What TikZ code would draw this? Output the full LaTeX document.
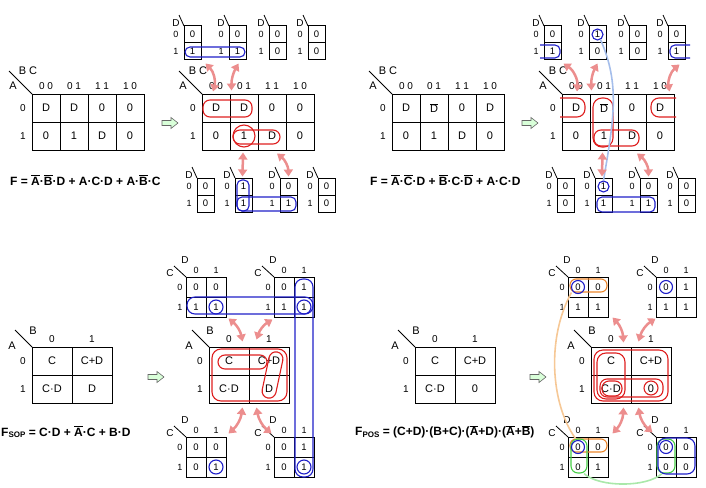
\documentclass[tikz,border=0pt]{standalone}
\usepackage{fontspec}
\setmainfont{Liberation Sans}
\usetikzlibrary{arrows.meta}
\definecolor{kred}{RGB}{222,30,30}
\definecolor{kblue}{RGB}{30,30,200}
\definecolor{karr}{RGB}{236,142,142}
\definecolor{klblue}{RGB}{165,190,235}
\definecolor{korange}{RGB}{236,135,45}
\definecolor{klorange}{RGB}{246,200,150}
\definecolor{kgreen}{RGB}{70,205,70}
\definecolor{klgreen}{RGB}{170,232,170}
\newcommand{\fs}[1]{\fontsize{#1}{#1}\selectfont}
\newcommand{\ol}[1]{$\overline{\mbox{#1}}$}
\newcommand{\sub}[1]{\raisebox{-1.5pt}{\fs{8}#1}}
\tikzset{cell/.style={draw,line width=1pt,inner sep=0pt,font=\fs{11}},
 scell/.style={cell,font=\fs{9.5}},
 lab/.style={inner sep=0pt,font=\fs{10}},
 fml/.style={anchor=west,inner sep=0pt,font=\fs{12}\bfseries},
 rg/.style={draw=kred,line width=1.1pt,rounded corners=7},
 bg/.style={draw=kblue,line width=1.1pt,rounded corners=5},
 og/.style={draw=korange,line width=1.1pt,rounded corners=6},
 gg/.style={draw=kgreen,line width=1.1pt,rounded corners=7},
 dbl/.style={{Triangle[length=7,width=9]}-{Triangle[length=7,width=9]},draw=karr,line width=2.5pt},
 fat/.style={draw=black!60,fill=green!15,line width=0.6pt}}
% 2x4 map: name, x, y, row 0, row 1
\newcommand{\kmapBig}[5]{%
 \foreach \v [count=\c from 0] in {#4} \node[cell,minimum size=28] (#1-0\c) at (#2+14+28*\c,#3+14) {\v};
 \foreach \v [count=\c from 0] in {#5} \node[cell,minimum size=28] (#1-1\c) at (#2+14+28*\c,#3+42) {\v};
 \draw[line width=0.9pt] (#2-23,#3-23) -- (#2,#3);
 \node[lab,font=\fs{11}] (#1-bc) at (#2-4,#3-23) {B C};\node[lab,font=\fs{11}] (#1-a) at (#2-19,#3-8) {A};
 \foreach \t [count=\c from 0] in {0 0,0 1,1 1,1 0} \node[lab] (#1-c\c) at (#2+14+28*\c,#3-8) {\t};
 \node[lab] (#1-r0) at (#2-9,#3+14) {0};\node[lab] (#1-r1) at (#2-9,#3+42) {1};}
% 2x2 map: name, x, y, row 0, row 1
\newcommand{\kmapTwo}[5]{%
 \foreach \v [count=\c from 0] in {#4} \node[cell,minimum width=40,minimum height=28] (#1-0\c) at (#2+20+40*\c,#3+14) {\v};
 \foreach \v [count=\c from 0] in {#5} \node[cell,minimum width=40,minimum height=28] (#1-1\c) at (#2+20+40*\c,#3+42) {\v};
 \draw[line width=0.9pt] (#2-17,#3-17) -- (#2,#3);
 \node[lab,font=\fs{11}] (#1-b) at (#2+1,#3-16) {B};\node[lab,font=\fs{11}] (#1-a) at (#2-20,#3-1) {A};
 \node[lab] (#1-c0) at (#2+20,#3-8) {0};\node[lab] (#1-c1) at (#2+60,#3-8) {1};
 \node[lab] (#1-r0) at (#2-9,#3+14) {0};\node[lab] (#1-r1) at (#2-9,#3+42) {1};}
% small one column map: name, x, y, D=0, D=1
\newcommand{\kmapCol}[5]{%
 \node[scell,minimum size=17] (#1-0) at (#2+8.5,#3+8.5) {#4};
 \node[scell,minimum size=17] (#1-1) at (#2+8.5,#3+25.5) {#5};
 \draw[line width=0.8pt] (#2-5,#3-11) -- (#2,#3);
 \node[lab] (#1-d) at (#2-8,#3-3) {D};
 \node[lab,font=\fs{9}] (#1-r0) at (#2-8,#3+8.5) {0};\node[lab,font=\fs{9}] (#1-r1) at (#2-8,#3+25.5) {1};}
% small 2x2 map: name, x, y, row 0, row 1
\newcommand{\kmapSm}[5]{%
 \foreach \v [count=\c from 0] in {#4} \node[scell,minimum size=20] (#1-0\c) at (#2+10+20*\c,#3+10) {\v};
 \foreach \v [count=\c from 0] in {#5} \node[scell,minimum size=20] (#1-1\c) at (#2+10+20*\c,#3+30) {\v};
 \draw[line width=0.8pt] (#2-12,#3-11) -- (#2,#3);
 \node[lab] (#1-d) at (#2-1,#3-17) {D};\node[lab] (#1-c) at (#2-16,#3-4) {C};
 \node[lab,font=\fs{9}] (#1-c0) at (#2+10,#3-7) {0};\node[lab,font=\fs{9}] (#1-c1) at (#2+30,#3-7) {1};
 \node[lab,font=\fs{9}] (#1-r0) at (#2-6,#3+10) {0};\node[lab,font=\fs{9}] (#1-r1) at (#2-6,#3+30) {1};}
\newcommand{\fatarr}[2]{\draw[fat] (#1,#2-2.5) -- ++(9,0) -- ++(0,-3) -- (#1+16,#2) -- (#1+9,#2+5.5) -- ++(0,-3) -- (#1,#2+2.5) -- cycle;}
\begin{document}
\begin{tikzpicture}[x=1pt,y=-1pt]
\useasboundingbox (0,0) rectangle (706,487);
% --- F = A'B'D + ACD + AB'C
\kmapBig{pa}{32}{94}{D,D,0,0}{0,1,D,0}
\kmapBig{ma}{202}{94}{D,D,0,0}{0,1,D,0}
\kmapCol{ta1}{184}{26}{0}{1}\kmapCol{ta2}{229}{26}{0}{1}\kmapCol{ta3}{269}{26}{0}{0}\kmapCol{ta4}{308}{26}{0}{0}
\kmapCol{ba1}{197}{178}{0}{0}\kmapCol{ba2}{235}{178}{1}{1}\kmapCol{ba3}{280}{178}{0}{1}\kmapCol{ba4}{318}{178}{0}{0}
\fatarr{162}{123}
\node[fml] (fa) at (10,180) {F = \ol{A}·\ol{B}·D + A·C·D + A·\ol{B}·C};
\draw[rg] (203,100) rectangle (252,117);\draw[rg] (233,130) rectangle (280,144);
\node[rg,circle,minimum size=22] (ca) at (ma-11) {};
\draw[bg] (185,47) rectangle (245,57);
\draw[bg] (237,180) rectangle (249,211);\draw[bg] (237,197) rectangle (296,211);
\draw[dbl] ([shift={(4,3)}]ta1-1.south east) to[bend left=30] ([shift={(-3,-2)}]ma-00.north);
\draw[dbl] ([shift={(1,3)}]ta2-1.south) to[bend right=15] ([shift={(2,-3)}]ma-01.north west);
\draw[dbl] ([shift={(-1,2)}]ma-11.south) -- ([shift={(-1,-1)}]ba2-0.north);
\draw[dbl] ([shift={(5,3)}]ma-12.south) to[bend left=25] ([shift={(0,-1)}]ba3-0.north);
% --- F = A'C'D + B'CD' + ACD
\kmapBig{pb}{392}{94}{D,\ol{D},0,D}{0,1,D,0}
\kmapBig{mb}{562}{94}{D,\ol{D},0,D}{0,1,D,0}
\kmapCol{tb1}{544}{26}{0}{1}\kmapCol{tb2}{589}{26}{1}{0}\kmapCol{tb3}{629}{26}{0}{0}\kmapCol{tb4}{668}{26}{0}{1}
\kmapCol{bb1}{557}{178}{0}{0}\kmapCol{bb2}{595}{178}{1}{1}\kmapCol{bb3}{640}{178}{0}{1}\kmapCol{bb4}{678}{178}{0}{0}
\fatarr{522}{123}
\node[fml] (fb) at (370,180) {F = \ol{A}·\ol{C}·D + \ol{B}·C·\ol{D} + A·C·D};
\draw[rg,rounded corners=8] (560,98) -- (585,98) -- (585,117) -- (560,117);
\draw[rg,rounded corners=8] (676,98) -- (651,98) -- (651,117) -- (676,117);
\draw[rg,rounded corners=9] (593,98) rectangle (613,147);\draw[rg] (594,130) rectangle (639,146);
\draw[bg] (540,45) -- (560,45) -- (560,58) -- (540,58);\draw[bg] (690,45) -- (670,45) -- (670,58) -- (690,58);
\draw[bg] (597,197) rectangle (655,212);
\node[bg,circle,minimum size=11,inner sep=0pt] (cb1) at (tb2-0) {};
\node[bg,circle,minimum size=11,inner sep=0pt] (cb2) at (bb2-0) {};
\draw[klblue,line width=1.6pt] (cb1.-60) .. controls +(20,45) and +(10,-60) .. (cb2.north);
\draw[dbl] ([shift={(2,3)}]tb1-1.south east) to[bend left=30] ([shift={(1,-2)}]mb-00.north);
\draw[dbl] ([shift={(0,3)}]tb2-1.south) to[bend right=15] ([shift={(2,-3)}]mb-01.north west);
\draw[dbl] ([shift={(3,4)}]tb4-1.south) to[bend right=30] ([shift={(-5,-2)}]mb-03.north east);
\draw[dbl] ([shift={(-1.5,2)}]mb-11.south) -- ([shift={(-1.5,-1)}]bb2-0.north);
\draw[dbl] ([shift={(5,3)}]mb-12.south) to[bend left=25] ([shift={(0,-1)}]bb3-0.north);
% --- F_SOP
\kmapTwo{pc}{32}{347}{C,C+D}{C·D,D}
\kmapTwo{mc}{209}{347}{C,C+D}{C·D,D}
\kmapSm{tlc}{186}{277}{0,0}{1,1}\kmapSm{trc}{274}{277}{0,1}{1,1}
\kmapSm{blc}{186}{437}{0,0}{0,1}\kmapSm{brc}{274}{437}{0,1}{0,1}
\fatarr{148}{377}
\node[fml] (fc) at (1,432) {F\sub{SOP} = C·D + \ol{A}·C + B·D};
\draw[rg,rounded corners=9] (212,349) rectangle (287,401);\draw[rg] (218,355) rectangle (267,369);
\node[rg,minimum width=14,minimum height=47,rotate=-12] (sd) at (272.5,375) {};
\draw[bg,rounded corners=8] (187,297) rectangle (313,314);\draw[bg,rounded corners=8] (295,279) rectangle (313,477);
\foreach \m in {tlc,trc,blc,brc} \node[bg,circle,minimum size=14,inner sep=0pt] (\m-o) at (\m-11) {};
\draw[dbl] ([shift={(2,1)}]tlc-11.south east) to[bend left=20] ([shift={(-7,-5)}]mc-00.north east);
\draw[dbl] ([shift={(-1,2)}]trc-10.south west) to[bend right=20] ([shift={(8,-7)}]mc-01.north west);
\draw[dbl] ([shift={(-7,4)}]mc-10.south east) to[bend left=20] ([shift={(2,-3)}]blc-01.north east);
\draw[dbl] ([shift={(8,4)}]mc-11.south west) to[bend right=20] ([shift={(-2,-3)}]brc-00.north west);
% --- F_POS
\kmapTwo{pd}{415}{347}{C,C+D}{C·D,0}
\kmapTwo{md}{591}{347}{C,C+D}{C·D,0}
\kmapSm{tld}{568}{277}{0,0}{1,1}\kmapSm{trd}{656}{277}{0,1}{1,1}
\kmapSm{bld}{568}{437}{0,0}{0,1}\kmapSm{brd}{656}{437}{0,0}{0,0}
\fatarr{530}{377}
\node[fml] (fd) at (355,432) {F\sub{POS} = (C+D)·(B+C)·(\ol{A}+D)·(\ol{A}+\ol{B})};
\draw[rg,rounded corners=9] (594,350) rectangle (668,401);\draw[rg,rounded corners=9] (597,353) rectangle (625,399);
\draw[rg] (600,379) rectangle (663,397);\draw[rg] (602,381) rectangle (622,396);
\node[rg,circle,minimum size=14,inner sep=0pt] (cd) at (651,388) {};
\node[og,minimum width=37,minimum height=13] (otl) at (588.5,285.5) {};
\node[og,minimum width=37,minimum height=13] (obl) at (588.5,445.5) {};
\node[gg,minimum width=16,minimum height=34] (gbl) at (579,456) {};
\node[gg,minimum width=18,minimum height=34] (gbr) at (666,456) {};
\draw[bg,rounded corners=8] (658,438) rectangle (695,474);
\foreach \m in {tld,trd,bld,brd} \node[bg,circle,minimum size=13,inner sep=0pt] (\m-o) at (\m-00) {};
\draw[klorange,line width=1.6pt] ([xshift=2]otl.south west) .. controls +(-25,45) and +(-25,-35) .. ([xshift=6]obl.north west);
\draw[klgreen,line width=1.6pt] ([xshift=5]gbl.south) .. controls +(15,14) and +(-15,14) .. ([xshift=-4]gbr.south);
\draw[dbl] ([shift={(4,0)}]tld-11.south east) to[bend left=20] ([shift={(-8,-4)}]md-00.north east);
\draw[dbl] ([shift={(0,1)}]trd-10.south west) to[bend right=20] ([shift={(8,-5)}]md-01.north west);
\draw[dbl] ([shift={(-8,4)}]md-10.south east) to[bend left=20] ([shift={(4,-3)}]bld-01.north east);
\draw[dbl] ([shift={(8,4)}]md-11.south west) to[bend right=20] ([shift={(-3,-4)}]brd-00.north west);
\end{tikzpicture}
\end{document}
